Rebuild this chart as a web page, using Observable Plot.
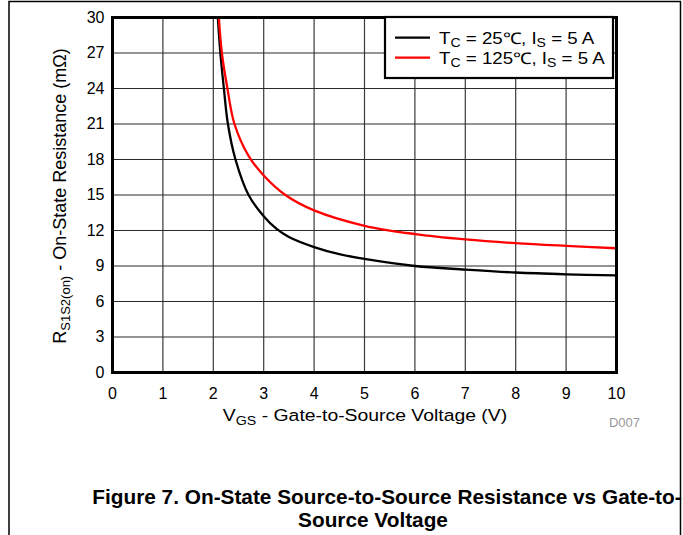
<!DOCTYPE html>
<html>
<head>
<meta charset="utf-8">
<script src="https://cdn.jsdelivr.net/npm/d3@7"></script>
<script src="https://cdn.jsdelivr.net/npm/@observablehq/plot@0.6"></script>
<style>
  html, body { margin: 0; padding: 0; background: #fff; }
  #chart svg { display: block; }
</style>
</head>
<body>
<div id="chart"></div>
<script>
// ---- data ----
const vgs25 = [2.09, 2.14, 2.21, 2.29, 2.44, 2.70, 3.0, 3.25, 3.5, 4.0, 4.5, 5.0, 6.0, 7.0, 8.0, 9.0, 10.0];
const r25   = [30, 27, 24, 21, 18, 15, 13.2, 12.15, 11.45, 10.6, 10.0, 9.6, 9.0, 8.7, 8.45, 8.3, 8.2];
const vgs125 = [2.11, 2.17, 2.28, 2.42, 2.70, 3.0, 3.43, 4.0, 5.0, 6.0, 7.0, 8.0, 9.0, 10.0];
const r125   = [30, 27, 24, 21, 18.3, 16.65, 15.0, 13.7, 12.4, 11.7, 11.25, 10.93, 10.7, 10.5];
const xTicks = [0, 1, 2, 3, 4, 5, 6, 7, 8, 9, 10];
const yTicks = [0, 3, 6, 9, 12, 15, 18, 21, 24, 27, 30];
const seriesColors = ["#000000", "#ff0000"];

const font = "'Liberation Sans', Arial, Helvetica, sans-serif";

const data25 = vgs25.map((v, i) => ({v, r: r25[i]}));
const data125 = vgs125.map((v, i) => ({v, r: r125[i]}));

const W = 683, H = 535;
const plot = Plot.plot({
  width: W,
  height: H,
  marginLeft: 112,
  marginRight: 67,
  marginTop: 17,
  marginBottom: 163,
  style: {fontFamily: font, fontSize: "16px", color: "#000", background: "#fff", overflow: "visible"},
  x: {domain: [0, 10], ticks: xTicks},
  y: {domain: [0, 30], ticks: yTicks},
  marks: [
    Plot.gridX(xTicks, {stroke: "#3a3a3a", strokeOpacity: 1, strokeWidth: 1.2}),
    Plot.gridY(yTicks, {stroke: "#2a2a2a", strokeOpacity: 1, strokeWidth: 1.1}),
    Plot.axisX(xTicks, {tickSize: 0, tickPadding: 15, label: null, fontSize: 16, fill: "#000"}),
    Plot.axisY(yTicks, {tickSize: 0, tickPadding: 8, label: null, fontSize: 16, fill: "#000"}),
    Plot.line(data25, {x: "v", y: "r", stroke: seriesColors[0], strokeWidth: 2.3, curve: "catmull-rom", clip: true}),
    Plot.line(data125, {x: "v", y: "r", stroke: seriesColors[1], strokeWidth: 2.3, curve: "catmull-rom", clip: true}),
    Plot.frame({stroke: "#000", strokeWidth: 3})
  ]
});
document.getElementById("chart").appendChild(plot);

// ---- decorations: figure border, legend, axis labels, caption ----
const svg = d3.select(plot);
const g = svg.append("g")
  .attr("font-family", font).style("font-family", font)
  .attr("fill", "#000").attr("text-anchor", "start");

// figure border (left, right, top)
g.append("path")
  .attr("d", `M9,${H} V1.5 H680.5 V${H}`)
  .attr("fill", "none").attr("stroke", "#000").attr("stroke-width", 1.5);

// legend
const lg = g.append("g");
lg.append("rect").attr("x", 385).attr("y", 17).attr("width", 228).attr("height", 61)
  .attr("fill", "#fff").attr("stroke", "#000").attr("stroke-width", 2.2);
const legendRows = [
  {main: "T", sub1: "C", mid: " = 25℃, I", sub2: "S", end: " = 5 A"},
  {main: "T", sub1: "C", mid: " = 125℃, I", sub2: "S", end: " = 5 A"}
];
legendRows.forEach((row, i) => {
  const y = 37.7 + i * 20;
  lg.append("line").attr("x1", 395).attr("x2", 430).attr("y1", y).attr("y2", y)
    .attr("stroke", seriesColors[i]).attr("stroke-width", 2.3);
  const t = lg.append("text").attr("transform", `translate(439,${y + 5.8}) scale(1.17,1)`)
    .attr("font-size", 16).attr("text-anchor", "start");
  t.append("tspan").text(row.main);
  t.append("tspan").attr("font-size", 12).attr("dy", 3.5).text(row.sub1);
  t.append("tspan").attr("dy", -3.5).text(row.mid);
  t.append("tspan").attr("font-size", 12).attr("dy", 3.5).text(row.sub2);
  t.append("tspan").attr("dy", -3.5).text(row.end);
});

// x-axis label
const xl = g.append("text").attr("transform", "translate(365,421) scale(1.14,1)")
  .attr("text-anchor", "middle").attr("font-size", 17);
xl.append("tspan").text("V");
xl.append("tspan").attr("font-size", 12.5).attr("dy", 4).text("GS");
xl.append("tspan").attr("dy", -4).text(" - Gate-to-Source Voltage (V)");

// y-axis label
const yl = g.append("text").attr("transform", "translate(66,196) rotate(-90)")
  .attr("text-anchor", "middle").attr("font-size", 18);
yl.append("tspan").text("R");
yl.append("tspan").attr("font-size", 13).attr("dy", 4).text("S1S2(on)");
yl.append("tspan").attr("dy", -4).text(" - On-State Resistance (mΩ)");

// graph id
g.append("text").attr("x", 640).attr("y", 427).attr("text-anchor", "end")
  .attr("font-size", 13).attr("fill", "#999").text("D007");

// caption
g.append("text").attr("x", 387).attr("y", 504).attr("text-anchor", "middle")
  .attr("font-size", 20.8).attr("font-weight", "bold")
  .text("Figure 7. On-State Source-to-Source Resistance vs Gate-to-");
g.append("text").attr("x", 373).attr("y", 527).attr("text-anchor", "middle")
  .attr("font-size", 20.8).attr("font-weight", "bold")
  .text("Source Voltage");
</script>
</body>
</html>
